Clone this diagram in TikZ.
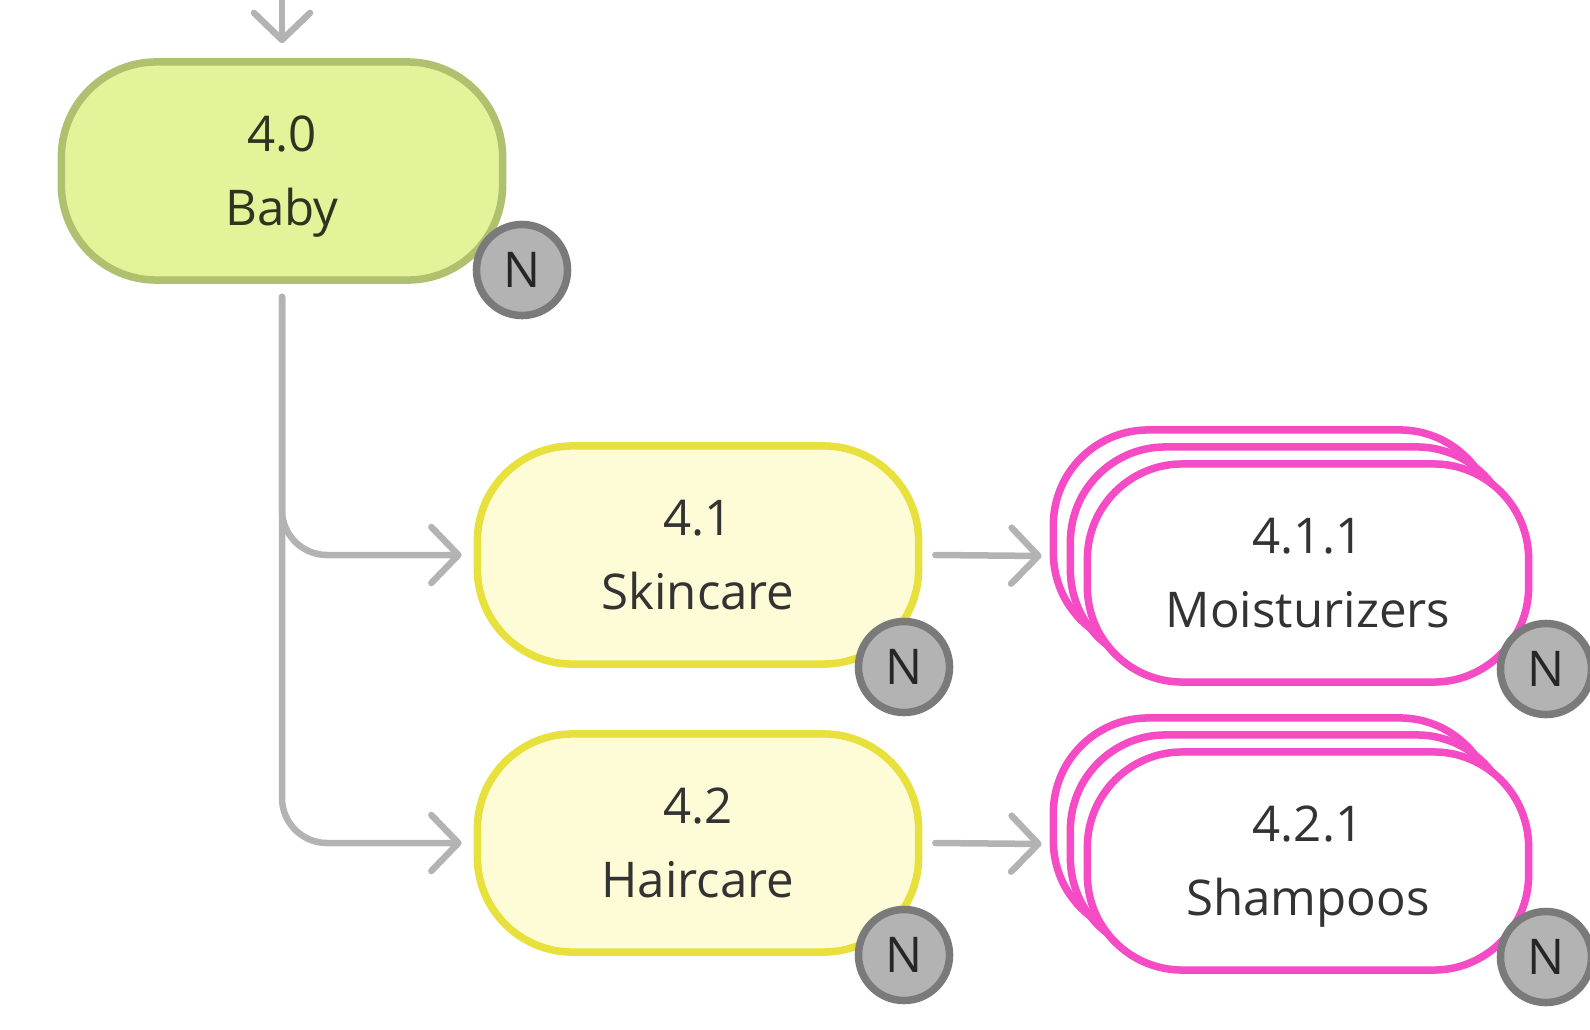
\documentclass[tikz,border=0pt]{standalone}
\usepackage{fontspec}
\setmainfont{Open Sans}
\usetikzlibrary{arrows.meta,shadows}
\definecolor{babyFill}{HTML}{E3F39A}
\definecolor{babyLine}{HTML}{AFC06E}
\definecolor{careFill}{HTML}{FEFCD6}
\definecolor{careLine}{HTML}{E8E03C}
\definecolor{itemLine}{HTML}{F54BC4}
\definecolor{badgeFill}{HTML}{B3B3B3}
\definecolor{badgeLine}{HTML}{7A7A7A}
\definecolor{flowGrey}{HTML}{B3B3B3}
\definecolor{textGrey}{HTML}{333333}
\definecolor{textOlive}{HTML}{2F3320}
\newcommand{\badge}[2]{%%
  %% Draw the grey N marker on the corner of a box.
  \node[badgeStyle] (#1) at (#2) {N};
}

\begin{document}
\begin{tikzpicture}[%%
  x=0.01cm,y=-0.01cm,
  boxStyle/.style={draw,rounded corners=0.95cm,minimum width=4.41cm,
    minimum height=2.18cm,line width=0.075cm,align=center,text depth=0pt,
    font=\fontsize{14}{21}\selectfont,text=textGrey},%%
  babyStyle/.style={boxStyle,fill=babyFill,draw=babyLine,text=textOlive},%%
  careStyle/.style={boxStyle,fill=careFill,draw=careLine},%%
  itemStyle/.style={boxStyle,fill=white,draw=itemLine,
    double copy shadow={shadow xshift=-0.17cm,shadow yshift=0.17cm}},%%
  badgeStyle/.style={circle,draw=badgeLine,fill=badgeFill,line width=0.075cm,
    minimum size=0.91cm,inner sep=0pt,text=black!85,
    font=\fontsize{14}{16}\selectfont},%%
  flowStyle/.style={draw=flowGrey,line width=0.065cm,line cap=round,
    -{Straight Barb[length=0.27cm,width=0.56cm,line cap=round,line join=round]}}
]
\useasboundingbox (0,0) rectangle (1590,1030);
%%
%% Boxes of the tree.
\node[babyStyle] (baby) at (282,171) {4.0\\Baby};
\node[careStyle] (skin) at (698,555) {4.1\\Skincare};
\node[careStyle] (hair) at (698,843) {4.2\\Haircare};
\node[itemStyle] (moist) at (1308,573) {4.1.1\\Moisturizers};
\node[itemStyle] (shamp) at (1308,861) {4.2.1\\Shampoos};
%%
%% Markers.
\badge{babyN}{522,270}
\badge{skinN}{904,667}
\badge{hairN}{904,955}
\badge{moistN}{1546,669}
\badge{shampN}{1546,957}
%%
%% Connectors.
\coordinate (entry) at (282,-5);
\draw[flowStyle] (entry) -- ([yshift=0.15cm]baby.north);
\draw[flowStyle,rounded corners=0.45cm] ([yshift=-0.13cm]baby.south) |- ([xshift=-0.12cm]skin.west);
\draw[flowStyle,rounded corners=0.45cm] ([yshift=-0.13cm]baby.south) |- ([xshift=-0.12cm]hair.west);
\draw[flowStyle] ([xshift=0.13cm]skin.east) -- ([xshift=-0.42cm,yshift=0.17cm]moist.west);
\draw[flowStyle] ([xshift=0.13cm]hair.east) -- ([xshift=-0.42cm,yshift=0.17cm]shamp.west);
\end{tikzpicture}
\end{document}
